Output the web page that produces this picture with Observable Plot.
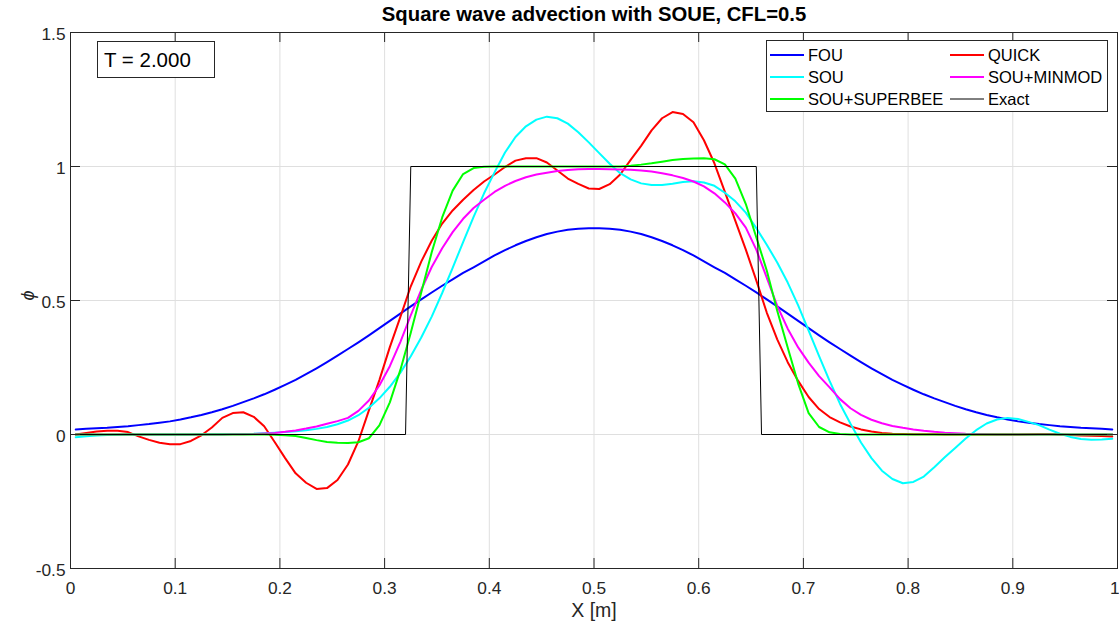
<!DOCTYPE html>
<html>
<head>
<meta charset="utf-8">
<script src="https://cdn.jsdelivr.net/npm/d3@7"></script>
<script src="https://cdn.jsdelivr.net/npm/@observablehq/plot@0.6"></script>
<style>
  html, body { margin: 0; padding: 0; background: #fff; }
  #chart { width: 1119px; height: 628px; }
</style>
</head>
<body>
<div id="chart"></div>
<script>
// ---- data ----
const xs = [0.005,0.015,0.025,0.035,0.045,0.055,0.065,0.075,0.085,0.095,
            0.105,0.115,0.125,0.135,0.145,0.155,0.165,0.175,0.185,0.195,
            0.205,0.215,0.225,0.235,0.245,0.255,0.265,0.275,0.285,0.295,
            0.305,0.315,0.325,0.335,0.345,0.355,0.365,0.375,0.385,0.395,
            0.405,0.415,0.425,0.435,0.445,0.455,0.465,0.475,0.485,0.495,
            0.505,0.515,0.525,0.535,0.545,0.555,0.565,0.575,0.585,0.595,
            0.605,0.615,0.625,0.635,0.645,0.655,0.665,0.675,0.685,0.695,
            0.705,0.715,0.725,0.735,0.745,0.755,0.765,0.775,0.785,0.795,
            0.805,0.815,0.825,0.835,0.845,0.855,0.865,0.875,0.885,0.895,
            0.905,0.915,0.925,0.935,0.945,0.955,0.965,0.975,0.985,0.995];

const fou = [0.019,0.021,0.023,0.025,0.028,0.031,0.035,0.039,0.044,0.049,
             0.056,0.064,0.073,0.083,0.094,0.107,0.121,0.135,0.150,0.167,
             0.185,0.204,0.225,0.247,0.270,0.294,0.319,0.344,0.370,0.397,
             0.424,0.451,0.478,0.504,0.530,0.555,0.579,0.603,0.624,0.646,
             0.668,0.688,0.706,0.722,0.736,0.748,0.757,0.764,0.768,0.770,
             0.770,0.768,0.764,0.757,0.748,0.736,0.722,0.706,0.688,0.668,
             0.646,0.624,0.603,0.579,0.555,0.530,0.504,0.478,0.451,0.424,
             0.397,0.370,0.344,0.319,0.294,0.270,0.247,0.225,0.204,0.185,
             0.167,0.150,0.135,0.121,0.107,0.094,0.083,0.073,0.064,0.056,
             0.049,0.044,0.039,0.035,0.031,0.028,0.025,0.023,0.021,0.019];

const quick = [0.000,0.006,0.011,0.014,0.014,0.009,-0.007,-0.020,-0.031,-0.036,
               -0.036,-0.024,-0.003,0.026,0.062,0.080,0.083,0.066,0.031,-0.028,
               -0.088,-0.145,-0.180,-0.203,-0.200,-0.170,-0.112,-0.025,0.090,0.203,
               0.326,0.438,0.553,0.645,0.723,0.787,0.836,0.876,0.912,0.944,
               0.970,0.998,1.022,1.031,1.031,1.015,0.985,0.955,0.935,0.918,
               0.916,0.934,0.970,1.025,1.077,1.135,1.180,1.203,1.196,1.165,
               1.098,1.012,0.905,0.797,0.690,0.575,0.455,0.355,0.270,0.200,
               0.140,0.095,0.065,0.045,0.030,0.019,0.011,0.006,0.003,0.002,
               0.001,0.001,0.001,0.000,0.000,0.000,0.000,0.000,0.000,0.000,
               0.000,0.001,0.002,0.002,0.000,-0.002,-0.004,-0.005,-0.006,-0.007];

const sou = [-0.010,-0.007,-0.004,-0.002,-0.001,0.000,0.000,0.000,0.000,0.000,
             0.000,0.000,0.001,0.001,0.001,0.002,0.002,0.003,0.005,0.007,
             0.009,0.012,0.016,0.021,0.028,0.038,0.052,0.072,0.100,0.135,
             0.178,0.230,0.292,0.362,0.440,0.528,0.622,0.718,0.812,0.900,
             0.978,1.052,1.110,1.150,1.175,1.186,1.180,1.160,1.128,1.090,
             1.050,1.010,0.975,0.952,0.937,0.931,0.931,0.936,0.942,0.945,
             0.940,0.928,0.902,0.870,0.828,0.770,0.708,0.642,0.567,0.482,
             0.388,0.292,0.200,0.114,0.040,-0.030,-0.088,-0.135,-0.166,-0.182,
             -0.177,-0.157,-0.122,-0.085,-0.050,-0.015,0.016,0.041,0.056,0.062,
             0.058,0.047,0.035,0.018,0.003,-0.009,-0.017,-0.020,-0.019,-0.016];

const minmod = [0.000,0.000,0.000,0.000,0.000,0.000,0.000,0.000,0.000,0.000,
                0.000,0.000,0.000,0.000,0.000,0.001,0.001,0.002,0.004,0.006,
                0.010,0.015,0.022,0.030,0.040,0.050,0.062,0.088,0.127,0.183,
                0.255,0.345,0.445,0.540,0.625,0.695,0.755,0.805,0.845,0.876,
                0.905,0.928,0.946,0.960,0.970,0.977,0.983,0.987,0.990,0.991,
                0.991,0.990,0.989,0.988,0.985,0.981,0.975,0.967,0.957,0.944,
                0.926,0.900,0.866,0.825,0.772,0.690,0.585,0.480,0.395,0.325,
                0.268,0.218,0.176,0.132,0.098,0.073,0.055,0.042,0.032,0.025,
                0.019,0.014,0.010,0.007,0.005,0.003,0.002,0.001,0.000,0.000,
                0.000,0.000,0.000,0.000,0.000,0.000,0.000,0.000,0.000,0.000];

const superbee = [0.000,0.000,0.000,0.000,0.000,0.000,0.000,0.000,0.000,0.000,
                  0.000,0.000,0.000,0.000,0.000,0.000,0.000,0.000,0.000,-0.001,
                  -0.003,-0.006,-0.013,-0.021,-0.028,-0.031,-0.032,-0.029,-0.014,0.034,
                  0.120,0.240,0.380,0.530,0.680,0.810,0.910,0.972,0.994,0.999,
                  1.000,1.000,1.000,1.000,1.000,1.000,1.000,1.000,1.000,1.000,
                  1.000,1.000,1.000,1.003,1.007,1.012,1.018,1.024,1.028,1.030,
                  1.031,1.027,1.008,0.955,0.860,0.736,0.612,0.462,0.325,0.190,
                  0.080,0.028,0.008,0.002,0.000,0.000,0.000,0.000,0.000,0.000,
                  0.000,0.000,0.000,0.000,0.000,0.000,0.000,0.000,0.000,0.000,
                  0.000,0.000,0.000,0.000,0.000,0.000,0.000,0.000,0.000,0.000];

const exactX = [0, 0.32, 0.325, 0.655, 0.66, 1];
const exactY = [0, 0, 1, 1, 0, 0];

const xTicks = [0, 0.1, 0.2, 0.3, 0.4, 0.5, 0.6, 0.7, 0.8, 0.9, 1];
const yTicks = [-0.5, 0, 0.5, 1, 1.5];
const xTickLabels = ["0", "0.1", "0.2", "0.3", "0.4", "0.5", "0.6", "0.7", "0.8", "0.9", "1"];
const yTickLabels = ["-0.5", "0", "0.5", "1", "1.5"];

const seriesNames  = ["FOU", "QUICK", "SOU", "SOU+MINMOD", "SOU+SUPERBEE", "Exact"];
const seriesColors = ["#0000ff", "#ff0000", "#00ffff", "#ff00ff", "#00ff00", "#000000"];
const seriesWidths = [2, 2, 2, 2, 2, 1];

const titleText = "Square wave advection with SOUE, CFL=0.5";
const xLabel = "X [m]";
const yLabel = "\u03D5";
const timeLabel = "T = 2.000";

// ---- build tables ----
const seriesValues = [fou, quick, sou, minmod, superbee];
const curves = seriesValues.map((vals, k) => xs.map((x, i) => ({x, y: vals[i], s: seriesNames[k]})));
const exact = exactX.map((x, i) => ({x, y: exactY[i], s: "Exact"}));
const xTickRows = xTicks.map((v, i) => ({v, label: xTickLabels[i]}));
const yTickRows = yTicks.map((v, i) => ({v, label: yTickLabels[i]}));

const W = 1119, H = 628;
const mT = 32, mB = 60, mL = 70, mR = 2;
const frameW = W - mL - mR, frameH = H - mT - mB;
const ink = "#262626";
const font = "'Liberation Sans', Arial, Helvetica, sans-serif";
const tickFs = 17.3;

const lineMarks = curves.map((c, k) =>
  Plot.line(c, {x: "x", y: "y", stroke: seriesColors[k], strokeWidth: seriesWidths[k]})
);

const chart = Plot.plot({
  width: W, height: H,
  marginTop: mT, marginBottom: mB, marginLeft: mL, marginRight: mR,
  style: {fontFamily: font, background: "#fff", color: ink, fontSize: tickFs + "px"},
  x: {domain: [0, 1], axis: null},
  y: {domain: [-0.5, 1.5], axis: null},
  marks: [
    Plot.gridX(xTicks, {stroke: "#dfdfdf", strokeOpacity: 1}),
    Plot.gridY(yTicks, {stroke: "#dfdfdf", strokeOpacity: 1}),
    // x tick labels (last one kept inside the picture)
    Plot.text(xTickRows.slice(0, -1), {x: "v", text: "label", frameAnchor: "bottom", dy: 20,
      lineAnchor: "middle", fontSize: tickFs, fill: ink}),
    Plot.text(xTickRows.slice(-1), {x: "v", text: "label", frameAnchor: "bottom", dy: 20,
      lineAnchor: "middle", textAnchor: "end", dx: 2, fontSize: tickFs, fill: ink}),
    Plot.text(yTickRows, {y: "v", text: "label", frameAnchor: "left", dx: -5, dy: 2,
      textAnchor: "end", lineAnchor: "middle", fontSize: tickFs, fill: ink}),
    ...lineMarks,
    Plot.line(exact, {x: "x", y: "y", stroke: seriesColors[5], strokeWidth: seriesWidths[5]}),
    Plot.tickX(xTicks, {x: d => d, insetTop: frameH - 10, stroke: ink}),
    Plot.tickX(xTicks, {x: d => d, insetBottom: frameH - 10, stroke: ink}),
    Plot.tickY(yTicks, {y: d => d, insetRight: frameW - 10, stroke: ink}),
    Plot.tickY(yTicks, {y: d => d, insetLeft: frameW - 10, stroke: ink}),
    Plot.frame({stroke: ink}),
    Plot.text([titleText], {text: d => d, frameAnchor: "top", dy: -18, lineAnchor: "middle",
      fontSize: 20.3, fontWeight: "bold", fill: "#000"}),
    Plot.text([xLabel], {text: d => d, frameAnchor: "bottom", dy: 42, lineAnchor: "middle",
      fontSize: 19.5, fill: ink}),
    Plot.text([yLabel], {text: d => d, frameAnchor: "left", dx: -42, rotate: -90,
      fontSize: 18, fontStyle: "italic", fill: ink})
  ]
});

// ---- legend and annotation box ----
const svg = d3.select(chart);
const lg = svg.append("g").attr("font-family", font).attr("font-size", 16.5)
  .attr("fill", "#000").attr("text-anchor", "start");
lg.append("rect").attr("x", 766.5).attr("y", 40.5).attr("width", 341).attr("height", 71)
  .attr("fill", "#fff").attr("stroke", ink).attr("stroke-width", 1);
const rowsY = [55, 77, 99];
const colLineX = [770, 950];
seriesNames.forEach((name, k) => {
  const r = Math.floor(k / 2), c = k % 2;
  const y = rowsY[r], x0 = colLineX[c];
  lg.append("line").attr("x1", x0).attr("x2", x0 + 34).attr("y1", y).attr("y2", y)
    .attr("stroke", seriesColors[k]).attr("stroke-width", seriesWidths[k]);
  lg.append("text").attr("x", x0 + 38).attr("y", y).attr("dy", "0.35em")
    .attr("text-anchor", "start").text(name);
});

const tb = svg.append("g").attr("font-family", font).attr("text-anchor", "start");
tb.append("rect").attr("x", 97.5).attr("y", 41.5).attr("width", 117).attr("height", 36)
  .attr("fill", "#fff").attr("stroke", ink).attr("stroke-width", 1);
tb.append("text").attr("x", 104).attr("y", 59.5).attr("dy", "0.35em")
  .attr("text-anchor", "start").attr("font-size", 20.5).attr("fill", "#000").text(timeLabel);

document.getElementById("chart").appendChild(chart);
</script>
</body>
</html>
